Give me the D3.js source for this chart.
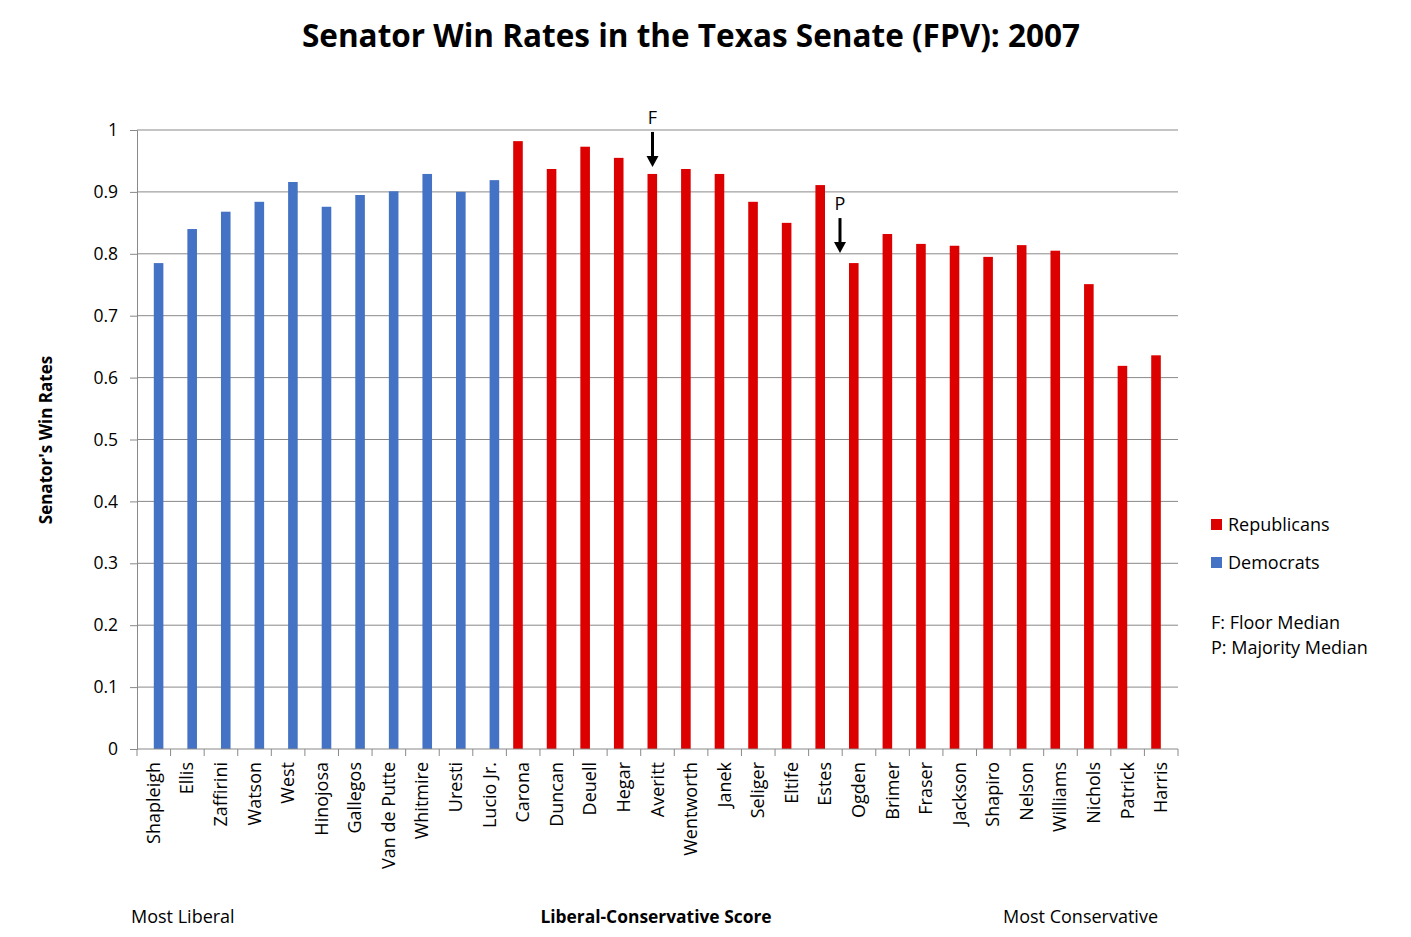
<!DOCTYPE html>
<html>
<head>
<meta charset="utf-8">
<script src="https://cdn.jsdelivr.net/npm/d3@7"></script>
<style>
  body { margin: 0; background: #fff; }
  text { font-family: "Open Sans", "Liberation Sans", sans-serif; fill: #000; }
</style>
</head>
<body>
<div id="chart"></div>
<script>
// Frame size and plot margins
const FRAME_WIDTH = 1411;
const FRAME_HEIGHT = 937;
const MARGINS = {left: 137, right: 233, top: 130, bottom: 188};
const VIS_WIDTH = FRAME_WIDTH - MARGINS.left - MARGINS.right;
const VIS_HEIGHT = FRAME_HEIGHT - MARGINS.top - MARGINS.bottom;

// Data
const senators = ["Shapleigh", "Ellis", "Zaffirini", "Watson", "West", "Hinojosa", "Gallegos",
  "Van de Putte", "Whitmire", "Uresti", "Lucio Jr.", "Carona", "Duncan", "Deuell", "Hegar",
  "Averitt", "Wentworth", "Janek", "Seliger", "Eltife", "Estes", "Ogden", "Brimer", "Fraser",
  "Jackson", "Shapiro", "Nelson", "Williams", "Nichols", "Patrick", "Harris"];
const winRates = [0.785, 0.840, 0.868, 0.884, 0.916, 0.876, 0.895, 0.901, 0.929, 0.900, 0.919,
  0.982, 0.937, 0.973, 0.955, 0.929, 0.937, 0.929, 0.884, 0.850, 0.911, 0.785, 0.832, 0.816,
  0.813, 0.795, 0.814, 0.805, 0.751, 0.619, 0.636];
const parties = ["D", "D", "D", "D", "D", "D", "D", "D", "D", "D", "D",
  "R", "R", "R", "R", "R", "R", "R", "R", "R", "R", "R", "R", "R", "R", "R", "R", "R", "R", "R", "R"];
const seriesOrder = ["R", "D"];
const yTicks = [0, 0.1, 0.2, 0.3, 0.4, 0.5, 0.6, 0.7, 0.8, 0.9, 1];
const legendItems = [{label: "Republicans", party: "R"}, {label: "Democrats", party: "D"}];
const notes = ["F: Floor Median", "P: Majority Median"];
const markers = [{label: "F", senator: "Averitt", shift: 0, gap: 7},
                 {label: "P", senator: "Ogden", shift: -14, gap: 10}];

const COLORS = {D: "#4472C4", R: "#DC0000"};
const GRID = "#898989";

const svg = d3.select("#chart")
  .append("svg")
    .attr("width", FRAME_WIDTH)
    .attr("height", FRAME_HEIGHT);

const data = senators.map((s, i) => ({name: s, value: winRates[i], party: parties[i]}));

const xScale = d3.scaleBand().domain(senators).range([0, VIS_WIDTH]).paddingInner(0.405).paddingOuter(0.2025);
const xSub = d3.scaleBand().domain(seriesOrder).range([0, xScale.bandwidth()]);
const yScale = d3.scaleLinear().domain([0, 1]).range([VIS_HEIGHT, 0]);

const g = svg.append("g").attr("transform", "translate(" + MARGINS.left + "," + MARGINS.top + ")");

// gridlines
g.selectAll(".grid")
  .data(yTicks.filter(t => t > 0))
  .enter().append("line")
    .attr("x1", 0).attr("x2", VIS_WIDTH)
    .attr("y1", d => yScale(d)).attr("y2", d => yScale(d))
    .attr("stroke", GRID).attr("stroke-width", 1);

// y axis
const yAxis = g.append("g")
  .call(d3.axisLeft(yScale).tickValues(yTicks).tickFormat(d3.format("~g")).tickSize(7).tickPadding(12));
yAxis.select(".domain").attr("stroke", GRID);
yAxis.selectAll(".tick line").attr("stroke", GRID);
yAxis.selectAll(".tick text").style("font-size", "17.5px").attr("fill", "#000");

// bars
g.selectAll(".bar")
  .data(data)
  .enter().append("rect")
    .attr("x", d => xScale(d.name) + xSub(d.party))
    .attr("y", d => yScale(d.value))
    .attr("width", xSub.bandwidth() - 0.4)
    .attr("height", d => VIS_HEIGHT - yScale(d.value))
    .attr("fill", d => COLORS[d.party]);

// x axis with ticks between categories
const step = xScale.step();
const x0 = xScale(senators[0]) - xScale.paddingOuter() * step;
g.append("line")
  .attr("x1", 0).attr("x2", VIS_WIDTH)
  .attr("y1", VIS_HEIGHT).attr("y2", VIS_HEIGHT)
  .attr("stroke", GRID);
g.selectAll(".xtick")
  .data(d3.range(senators.length + 1))
  .enter().append("line")
    .attr("x1", i => x0 + i * step).attr("x2", i => x0 + i * step)
    .attr("y1", VIS_HEIGHT).attr("y2", VIS_HEIGHT + 7)
    .attr("stroke", GRID);

g.selectAll(".xlabel")
  .data(data)
  .enter().append("text")
    .attr("transform", d => "translate(" + (xScale(d.name) + xScale.bandwidth() / 2 + 6) + "," + (VIS_HEIGHT + 13) + ") rotate(-90)")
    .attr("text-anchor", "end")
    .style("font-size", "18px")
    .text(d => d.name);

// F / P markers with arrows
markers.forEach(m => {
  const i = senators.indexOf(m.senator);
  const cx = xScale(m.senator) + xSub(parties[i]) + xSub.bandwidth() / 2 + m.shift;
  const top = yScale(winRates[i]);
  const tip = top - m.gap;
  g.append("line")
    .attr("x1", cx).attr("x2", cx)
    .attr("y1", tip - 35).attr("y2", tip - 9)
    .attr("stroke", "#000").attr("stroke-width", 3);
  g.append("path")
    .attr("d", "M" + (cx - 6) + "," + (tip - 11) + " L" + (cx + 6) + "," + (tip - 11) + " L" + cx + "," + tip + " Z")
    .attr("fill", "#000");
  g.append("text")
    .attr("x", cx)
    .attr("y", tip - 43)
    .attr("text-anchor", "middle")
    .style("font-size", "18px")
    .text(m.label);
});

// title
svg.append("text")
  .attr("x", 691).attr("y", 47)
  .attr("text-anchor", "middle")
  .style("font-size", "31.5px").style("font-weight", "bold")
  .text("Senator Win Rates in the Texas Senate (FPV): 2007");

// axis titles
svg.append("text")
  .attr("transform", "translate(52,440) rotate(-90)")
  .attr("text-anchor", "middle")
  .style("font-size", "17px").style("font-weight", "bold")
  .text("Senator's Win Rates");

svg.append("text")
  .attr("x", 656).attr("y", 923)
  .attr("text-anchor", "middle")
  .style("font-size", "17.4px").style("font-weight", "bold")
  .text("Liberal-Conservative Score");

svg.append("text")
  .attr("x", 131).attr("y", 923)
  .style("font-size", "18px")
  .text("Most Liberal");

svg.append("text")
  .attr("x", 1158).attr("y", 923)
  .attr("text-anchor", "end")
  .style("font-size", "18px")
  .text("Most Conservative");

// legend
const legend = svg.append("g").attr("transform", "translate(1211,519)");
legendItems.forEach((item, i) => {
  legend.append("rect")
    .attr("x", 0).attr("y", i * 38)
    .attr("width", 11).attr("height", 11)
    .attr("fill", COLORS[item.party]);
  legend.append("text")
    .attr("x", 17).attr("y", i * 38 + 12)
    .style("font-size", "18px")
    .text(item.label);
});
notes.forEach((n, i) => {
  svg.append("text")
    .attr("x", 1211).attr("y", 629 + i * 25)
    .style("font-size", "18px")
    .text(n);
});
</script>
</body>
</html>
